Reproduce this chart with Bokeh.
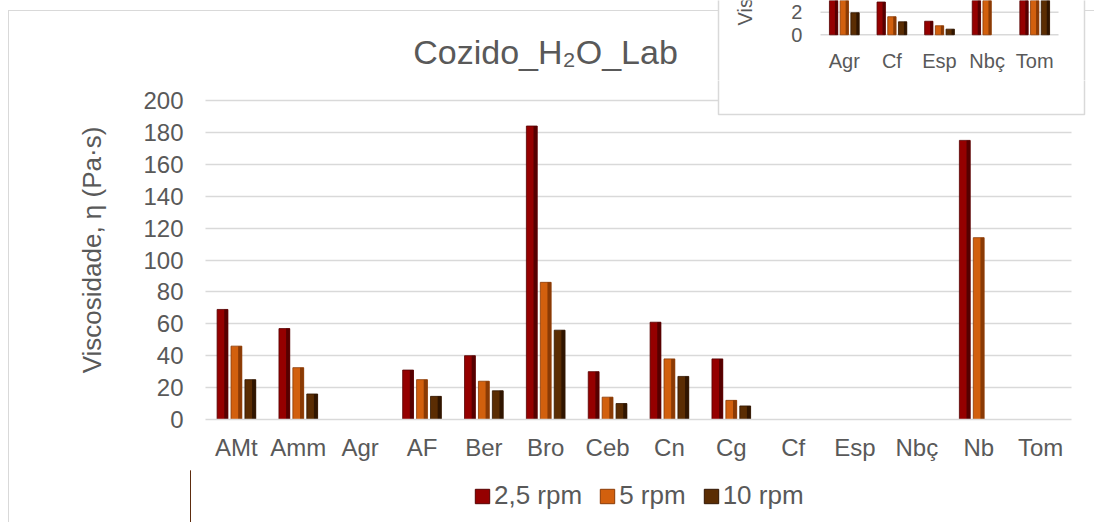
import numpy as np
from math import pi
from bokeh.plotting import figure
from bokeh.layouts import column
from bokeh.models import (ColumnDataSource, Range1d, FixedTicker, Legend,
                          LegendItem, Label, BoxAnnotation)
from bokeh.core.properties import value
from bokeh.embed import file_html
from bokeh.resources import INLINE

nan = float("nan")

# ---------------- data (main chart) ----------------
categories = ["AMt", "Amm", "Agr", "AF", "Ber", "Bro", "Ceb", "Cn", "Cg",
              "Cf", "Esp", "Nbç", "Nb", "Tom"]
series_names = ["2,5 rpm", "5 rpm", "10 rpm"]
visc_2_5rpm = [69, 57, nan, 31, 40, 184, 30, 61, 38, nan, nan, nan, 175, nan]
visc_5rpm = [46, 32.5, nan, 25, 24, 86, 14, 38, 12, nan, nan, nan, 114, nan]
visc_10rpm = [25, 16, nan, 14.5, 18, 56, 10, 27, 8.5, nan, nan, nan, nan, nan]
y_ticks = [0, 20, 40, 60, 80, 100, 120, 140, 160, 180, 200]

# ---------------- data (inset chart, top right) ----------------
inset_categories = ["Agr", "Cf", "Esp", "Nbç", "Tom"]
inset_2_5rpm = [5.2, 2.9, 1.2, 7.4, 9.0]
inset_5rpm = [4.1, 1.6, 0.8, 5.8, 6.6]
inset_10rpm = [1.95, 1.15, 0.5, nan, 4.3]
inset_ticks = [0, 2]

title_text = "Cozido_H₂O_Lab"
y_title = "Viscosidade, η (Pa·s)"

# ---------------- style ----------------
FONT = "Liberation Sans"
TXT = "#595959"
GRID = "#d9d9d9"
fills = ["#950000", "#D2600E", "#5B2D03"]
darks = ["#560000", "#8A3A05", "#301500"]
offsets = [-0.225, 0.0, 0.225]
BAR_W = 0.175

W = 1094
H_TOP, H_MAIN, H_LEG = 80, 390, 52
LEFT = 190
n_main = len(categories)


def border_styles(top, height, with_top):
    imgs = ["linear-gradient(#d9d9d9, #d9d9d9)"]
    sizes = [f"1px {height}px"]
    pos = [f"8px {top}px"]
    if with_top:
        imgs.append("linear-gradient(#d9d9d9, #d9d9d9)")
        sizes.append("1090px 1px")
        pos.append(f"8px {top}px")
    return {"background-color": "white", "background-image": ", ".join(imgs),
            "background-size": ", ".join(sizes), "background-position": ", ".join(pos),
            "background-repeat": "no-repeat"}


def bare(fig):
    fig.outline_line_color = None
    fig.background_fill_color = None
    fig.border_fill_color = None
    fig.xgrid.visible = False
    fig.ygrid.visible = False


def inset_box(bottom, top):
    return BoxAnnotation(left=718, right=1084, top=top, bottom=bottom,
                         left_units="canvas", right_units="canvas",
                         top_units="canvas", bottom_units="canvas",
                         fill_color="white", fill_alpha=1.0,
                         line_color=GRID, line_alpha=1.0, line_width=1.5,
                         level="underlay")


# ================= top strip: title + inset chart =================
pt = figure(width=W, height=H_TOP,
            x_range=Range1d(-13.235, 5.756), y_range=Range1d(-4.044, 3.035),
            output_backend="svg", toolbar_location=None,
            x_axis_location=None, y_axis_location=None,
            min_border_left=LEFT, min_border_right=0, min_border_top=0,
            min_border_bottom=0)
bare(pt)
pt.styles = border_styles(10, H_TOP, True)
pt.add_layout(inset_box(120, -20))

n_in = len(inset_categories)
pt.segment(x0=0, x1=n_in, y0="t", y1="t",
           source=ColumnDataSource(dict(t=inset_ticks)),
           line_color=GRID, line_width=1.5)
inset_series = [inset_2_5rpm, inset_5rpm, inset_10rpm]
centers = [i + 0.5 for i in range(n_in)]
for vals, off, fc, dc in zip(inset_series, offsets, fills, darks):
    xs = [c + off for c, v in zip(centers, vals) if v == v]
    vs = [v for v in vals if v == v]
    src = ColumnDataSource(dict(x=xs, v=vs, xd=[x + BAR_W * 0.33 for x in xs]))
    pt.vbar(x="x", top="v", width=BAR_W, source=src, fill_color=fc,
            line_color=dc, line_width=0.8)
    pt.vbar(x="xd", top="v", width=BAR_W * 0.34, source=src, fill_color=dc,
            line_color=None)

pt.text(x=centers, y=[-2.32] * n_in, text=inset_categories,
        text_align="center", text_baseline="middle",
        text_font=value(FONT), text_font_size=value("20px"), text_color=TXT)
pt.text(x=[-0.38] * len(inset_ticks), y=inset_ticks, text=[str(t) for t in inset_ticks],
        text_align="right", text_baseline="middle",
        text_font=value(FONT), text_font_size=value("20px"), text_color=TXT)
pt.text(x=[-1.58], y=[0.82], text=[y_title], angle=pi / 2,
        text_align="left", text_baseline="middle",
        text_font=value(FONT), text_font_size=value("20px"), text_color=TXT)

pt.add_layout(Label(x=355, y=29, x_units="screen", y_units="screen", text=title_text,
                    text_align="center", text_baseline="middle", text_font=FONT,
                    text_font_size="34px", text_color=TXT))

# ================= main chart =================
p = figure(width=W, height=H_MAIN,
           x_range=Range1d(-0.2425, n_main + 0.3718),
           y_range=Range1d(0, 212.54),
           output_backend="svg", toolbar_location=None,
           min_border_left=LEFT, min_border_right=0, min_border_top=0,
           min_border_bottom=51)
p.outline_line_color = None
p.background_fill_color = None
p.border_fill_color = None
p.styles = border_styles(0, H_MAIN, False)

main_centers = [i + 0.5 for i in range(n_main)]

p.yaxis.ticker = FixedTicker(ticks=y_ticks)
p.yaxis.axis_line_color = None
p.yaxis.major_tick_line_color = None
p.yaxis.minor_tick_line_color = None
p.yaxis.major_tick_out = 0
p.yaxis.major_tick_in = 0
p.yaxis.major_label_standoff = 7
p.yaxis.major_label_text_font = FONT
p.yaxis.major_label_text_font_size = "24px"
p.yaxis.major_label_text_color = TXT
p.yaxis.axis_label = y_title
p.yaxis.axis_label_standoff = 33
p.yaxis.axis_label_text_font = FONT
p.yaxis.axis_label_text_font_size = "26px"
p.yaxis.axis_label_text_font_style = "normal"
p.yaxis.axis_label_text_color = TXT

p.xaxis.ticker = FixedTicker(ticks=main_centers)
p.xaxis.major_label_overrides = {c: name for c, name in zip(main_centers, categories)}
p.xaxis.axis_line_color = GRID
p.xaxis.axis_line_width = 1.5
p.xaxis.bounds = (0, n_main)
p.xaxis.major_tick_line_color = None
p.xaxis.minor_tick_line_color = None
p.xaxis.major_tick_out = 0
p.xaxis.major_tick_in = 0
p.xaxis.major_label_standoff = 14
p.xaxis.major_label_text_font = FONT
p.xaxis.major_label_text_font_size = "24px"
p.xaxis.major_label_text_color = TXT

p.xgrid.grid_line_color = None
p.ygrid.grid_line_color = GRID
p.ygrid.grid_line_width = 1.5
p.ygrid.cross_bounds = (0, n_main)

# lower part of the inset box overlapping the main chart
p.add_layout(inset_box(114 - H_TOP, -100))

main_series = [visc_2_5rpm, visc_5rpm, visc_10rpm]
for vals, off, fc, dc in zip(main_series, offsets, fills, darks):
    xs = [c + off for c, v in zip(main_centers, vals) if v == v]
    vs = [v for v in vals if v == v]
    src = ColumnDataSource(dict(x=xs, v=vs, xd=[x + BAR_W * 0.33 for x in xs]))
    p.vbar(x="x", top="v", width=BAR_W, source=src,
           fill_color=fc, line_color=dc, line_width=0.8)
    p.vbar(x="xd", top="v", width=BAR_W * 0.34, source=src,
           fill_color=dc, line_color=None)

# ================= legend strip =================
pl = figure(width=W, height=H_LEG, x_range=Range1d(0, 1), y_range=Range1d(0, 1),
            output_backend="svg", toolbar_location=None,
            x_axis_location=None, y_axis_location=None,
            min_border_left=LEFT, min_border_right=0, min_border_top=0,
            min_border_bottom=0)
bare(pl)
pl.styles = border_styles(0, H_LEG, False)

legend_items = []
for name, vals, fc, dc in zip(series_names, main_series, fills, darks):
    # legend swatch proxy: one bar of the series, kept outside this strip's view
    first = [v for v in vals if v == v][:1]
    proxy = pl.vbar(x=[-5] * len(first), top=first, width=0.1,
                    fill_color=fc, line_color=dc, line_width=1)
    legend_items.append(LegendItem(label=name, renderers=[proxy], index=0))

legend = Legend(items=legend_items, orientation="horizontal", location=(283, 11),
                glyph_width=18, glyph_height=18, label_height=29,
                label_standoff=3, spacing=16,
                padding=0, margin=0, border_line_color=None,
                background_fill_alpha=0.0, label_text_font=FONT,
                label_text_font_size="26px", label_text_color=TXT)
pl.add_layout(legend)

layout = column(pt, p, pl, spacing=0)
open("out.html", "w").write(file_html(layout, INLINE))
